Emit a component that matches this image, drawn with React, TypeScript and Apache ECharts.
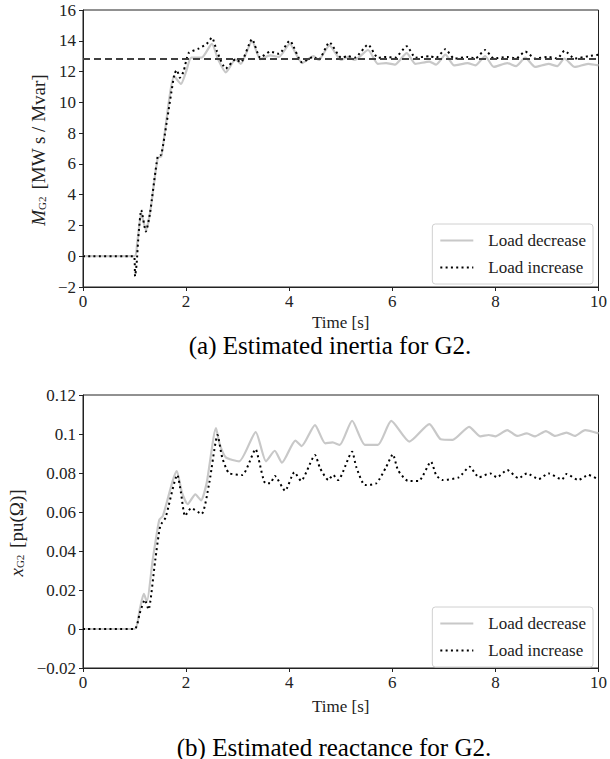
import React, { useEffect, useRef } from "react";
import * as echarts from "echarts";

// ---------- Data ----------
const xTicks = [0, 2, 4, 6, 8, 10];

// (a) inertia estimate M_G2, load decrease
const tInertiaDec = [0, 1.0, 1.05, 1.13, 1.22, 1.3, 1.45, 1.52, 1.77, 1.9, 2.0, 2.1, 2.3, 2.5, 2.62, 2.77, 2.96, 3.06, 3.28, 3.44, 3.63, 3.8, 4.01, 4.25, 4.47, 4.57, 4.78, 5.01, 5.14, 5.27, 5.53, 5.72, 5.88, 6.05, 6.28, 6.45, 6.72, 6.85, 7.03, 7.2, 7.46, 7.61, 7.8, 7.97, 8.23, 8.4, 8.58, 8.77, 9.03, 9.2, 9.34, 9.54, 9.8, 10];
const mInertiaDec = [0, 0, 0.8, 2.8, 1.7, 2.8, 6.4, 6.5, 11.7, 11.2, 12.0, 12.9, 12.9, 13.8, 12.8, 11.95, 12.8, 12.5, 14.0, 12.8, 13.05, 12.95, 13.8, 12.55, 13.0, 12.75, 13.7, 12.75, 12.95, 12.75, 13.4, 12.5, 12.55, 12.45, 13.2, 12.5, 12.65, 12.45, 13.1, 12.4, 12.55, 12.4, 13.0, 12.3, 12.55, 12.35, 12.9, 12.3, 12.5, 12.35, 12.85, 12.3, 12.5, 12.4];

// (a) inertia estimate M_G2, load increase
const tInertiaInc = [0, 0.99, 1.01, 1.04, 1.08, 1.13, 1.22, 1.3, 1.45, 1.52, 1.77, 1.82, 1.88, 1.95, 2.05, 2.25, 2.4, 2.5, 2.6, 2.77, 2.96, 3.06, 3.28, 3.44, 3.63, 3.8, 4.01, 4.25, 4.47, 4.57, 4.78, 5.01, 5.14, 5.27, 5.53, 5.72, 5.88, 6.05, 6.28, 6.45, 6.72, 6.85, 7.03, 7.2, 7.46, 7.61, 7.8, 7.97, 8.23, 8.4, 8.58, 8.77, 9.03, 9.2, 9.34, 9.54, 9.8, 10];
const mInertiaInc = [0, 0, -1.3, -0.5, 1.5, 3.0, 1.6, 2.8, 6.5, 6.6, 11.8, 12.1, 11.6, 12.0, 13.2, 13.5, 13.8, 14.2, 13.3, 12.2, 12.8, 12.6, 14.1, 12.9, 13.3, 13.15, 14.0, 12.6, 12.95, 12.75, 13.9, 12.9, 13.0, 12.9, 13.75, 12.9, 12.95, 12.9, 13.65, 12.9, 13.0, 12.9, 13.45, 12.85, 12.95, 12.85, 13.4, 12.85, 12.95, 12.85, 13.3, 12.85, 12.95, 12.85, 13.35, 12.85, 13.0, 13.1];

// true inertia (dashed reference)
const inertiaTrue = 12.8;

// (b) reactance estimate x_G2, load decrease
const tReactDec = [0, 1.0, 1.1, 1.18, 1.24, 1.35, 1.48, 1.55, 1.82, 1.92, 2.03, 2.18, 2.29, 2.4, 2.58, 2.65, 2.77, 3.03, 3.35, 3.55, 3.72, 3.86, 4.12, 4.24, 4.5, 4.7, 4.84, 4.98, 5.22, 5.47, 5.72, 5.98, 6.33, 6.72, 6.94, 7.17, 7.49, 7.71, 7.87, 8.0, 8.23, 8.42, 8.61, 8.77, 8.98, 9.16, 9.38, 9.54, 9.74, 10];
const xReactDec = [0, 0, 0.01, 0.018, 0.014, 0.035, 0.056, 0.058, 0.081, 0.07, 0.064, 0.069, 0.066, 0.075, 0.103, 0.095, 0.088, 0.086, 0.101, 0.086, 0.0914, 0.0853, 0.0966, 0.0938, 0.1046, 0.0952, 0.0957, 0.0944, 0.1068, 0.0944, 0.0944, 0.1067, 0.0961, 0.1051, 0.0973, 0.097, 0.1037, 0.0988, 0.0995, 0.0988, 0.102, 0.099, 0.1003, 0.0988, 0.1015, 0.099, 0.1007, 0.099, 0.102, 0.1003];

// (b) reactance estimate x_G2, load increase
const tReactInc = [0, 1.0, 1.1, 1.2, 1.27, 1.4, 1.5, 1.6, 1.83, 1.9, 1.98, 2.1, 2.3, 2.45, 2.61, 2.7, 2.83, 3.09, 3.35, 3.41, 3.54, 3.63, 3.72, 3.92, 4.1, 4.23, 4.5, 4.6, 4.76, 4.85, 4.95, 5.22, 5.3, 5.47, 5.69, 5.88, 6.01, 6.11, 6.3, 6.51, 6.75, 6.85, 6.97, 7.29, 7.5, 7.68, 7.9, 8.03, 8.23, 8.45, 8.61, 8.84, 9.03, 9.29, 9.38, 9.61, 9.8, 10];
const xReactInc = [0, 0, 0.008, 0.015, 0.01, 0.035, 0.053, 0.057, 0.079, 0.07, 0.058, 0.062, 0.059, 0.075, 0.0995, 0.088, 0.08, 0.079, 0.0922, 0.0867, 0.0747, 0.0747, 0.0785, 0.0709, 0.0804, 0.076, 0.0892, 0.0824, 0.0764, 0.079, 0.0764, 0.0909, 0.0832, 0.0738, 0.0747, 0.083, 0.0896, 0.0815, 0.076, 0.0759, 0.0858, 0.079, 0.0764, 0.0778, 0.0832, 0.0778, 0.0798, 0.0778, 0.0815, 0.0773, 0.0798, 0.0769, 0.0798, 0.0767, 0.0795, 0.0764, 0.079, 0.0767];

const seriesNames = ["Load decrease", "Load increase"];
const captions = ["(a) Estimated inertia for G2.", "(b) Estimated reactance for G2."];

// ---------- helpers ----------
const zip = (t: number[], v: number[]) => t.map((x, i) => [x, v[i]]);
const fmt = (v: number) => {
  const s = String(parseFloat(Math.abs(v).toFixed(4)));
  return (v < 0 ? "\u2212" : "") + s;
};

const FONT = "'Liberation Serif', 'Times New Roman', serif";
const FS = 17;
const GRAY = "#c8c8c8";
const INK = "#222";

export default function App() {
  const ref = useRef<HTMLDivElement>(null);

  useEffect(() => {
    document.body.style.margin = "0";
    if (!ref.current) return;
    const chart = echarts.init(ref.current, null, { renderer: "svg" });

    const axisCommon = {
      axisLine: { show: true, onZero: false, lineStyle: { color: INK, width: 1 } },
      axisTick: { show: true, length: 4, lineStyle: { color: INK, width: 1 } },
      splitLine: { show: false },
    };
    const labelStyle = { fontFamily: FONT, fontSize: FS, color: INK, formatter: fmt };
    const xAxisFor = (gridIndex: number, gap: number) => ({
      type: "value",
      gridIndex,
      min: xTicks[0],
      max: xTicks[xTicks.length - 1],
      interval: 2,
      name: "Time [s]",
      nameLocation: "middle",
      nameGap: gap,
      nameTextStyle: { fontFamily: FONT, fontSize: FS, color: INK },
      axisLabel: { ...labelStyle, margin: 6 },
      ...axisCommon,
    });

    const legendFor = (top: number) => ({
      data: seriesNames,
      orient: "vertical",
      right: 17,
      top,
      itemWidth: 33,
      itemHeight: 14,
      itemGap: 10,
      padding: [8, 7, 8, 7],
      backgroundColor: "rgba(255,255,255,0.85)",
      borderColor: "#d0d0d0",
      borderWidth: 1,
      borderRadius: 3,
      itemStyle: { opacity: 0 },
      textStyle: { fontFamily: FONT, fontSize: FS, color: INK, padding: [0, 0, 0, 10] },
    });

    const lineDec = { color: GRAY, width: 2.2 };
    const lineInc = { color: "#000", width: 2, type: [2, 3.3], cap: "butt" };

    const yName = (x: number, y: number, text: string) => ({
      type: "text", x, y, rotation: Math.PI / 2,
      style: {
        text,
        fontFamily: FONT, fontSize: 19, fill: INK,
        align: "center", verticalAlign: "middle",
        rich: {
          i: { fontFamily: FONT, fontSize: 19, fontStyle: "italic", fill: INK },
          s: { fontFamily: FONT, fontSize: 11, fill: INK, padding: [8, 2, 0, 0] },
        },
      },
    });

    chart.setOption({
      animation: false,
      grid: [
        { left: 83, top: 10, width: 519, height: 277, show: true, borderColor: INK, borderWidth: 1, backgroundColor: "transparent" },
        { left: 83, top: 395, width: 519, height: 273, show: true, borderColor: INK, borderWidth: 1, backgroundColor: "transparent" },
      ],
      xAxis: [xAxisFor(0, 27), xAxisFor(1, 30)],
      yAxis: [
        { type: "value", gridIndex: 0, min: -2, max: 16, interval: 2, axisLabel: { ...labelStyle, margin: 7 }, ...axisCommon },
        { type: "value", gridIndex: 1, min: -0.02, max: 0.12, interval: 0.02, axisLabel: { ...labelStyle, margin: 7 }, ...axisCommon },
      ],
      legend: [legendFor(224), legendFor(607)],
      series: [
        {
          name: seriesNames[0], type: "line", xAxisIndex: 0, yAxisIndex: 0,
          data: zip(tInertiaDec, mInertiaDec), showSymbol: false, symbol: "none",
          smooth: 0.2, lineStyle: lineDec, itemStyle: { color: GRAY }, z: 2,
        },
        {
          name: seriesNames[1], type: "line", xAxisIndex: 0, yAxisIndex: 0,
          data: zip(tInertiaInc, mInertiaInc), showSymbol: false, symbol: "none",
          smooth: 0.2, lineStyle: lineInc, itemStyle: { color: "#000" }, z: 3,
          markLine: {
            silent: true, symbol: "none", label: { show: false },
            lineStyle: { color: "#404040", width: 1.8, type: [7, 4] },
            data: [{ yAxis: inertiaTrue }],
          },
        },
        {
          name: seriesNames[0], type: "line", xAxisIndex: 1, yAxisIndex: 1,
          data: zip(tReactDec, xReactDec), showSymbol: false, symbol: "none",
          smooth: 0.2, lineStyle: lineDec, itemStyle: { color: GRAY }, z: 2,
        },
        {
          name: seriesNames[1], type: "line", xAxisIndex: 1, yAxisIndex: 1,
          data: zip(tReactInc, xReactInc), showSymbol: false, symbol: "none",
          smooth: 0.2, lineStyle: lineInc, itemStyle: { color: "#000" }, z: 3,
        },
      ],
      graphic: [
        yName(38, 150, "{i|M}{s|G2} [MW s / Mvar]"),
        yName(16, 533, "{i|x}{s|G2} [pu(\u03a9)]"),
        {
          type: "text", x: 330, y: 345,
          style: { text: captions[0], fontFamily: FONT, fontSize: 25, fill: "#000", align: "center", verticalAlign: "middle" },
        },
        {
          type: "text", x: 334, y: 747,
          style: { text: captions[1], fontFamily: FONT, fontSize: 25, fill: "#000", align: "center", verticalAlign: "middle" },
        },
      ],
    });

    return () => chart.dispose();
  }, []);

  return <div ref={ref} style={{ position: "absolute", left: 0, top: 0, width: 610, height: 759 }} />;
}
